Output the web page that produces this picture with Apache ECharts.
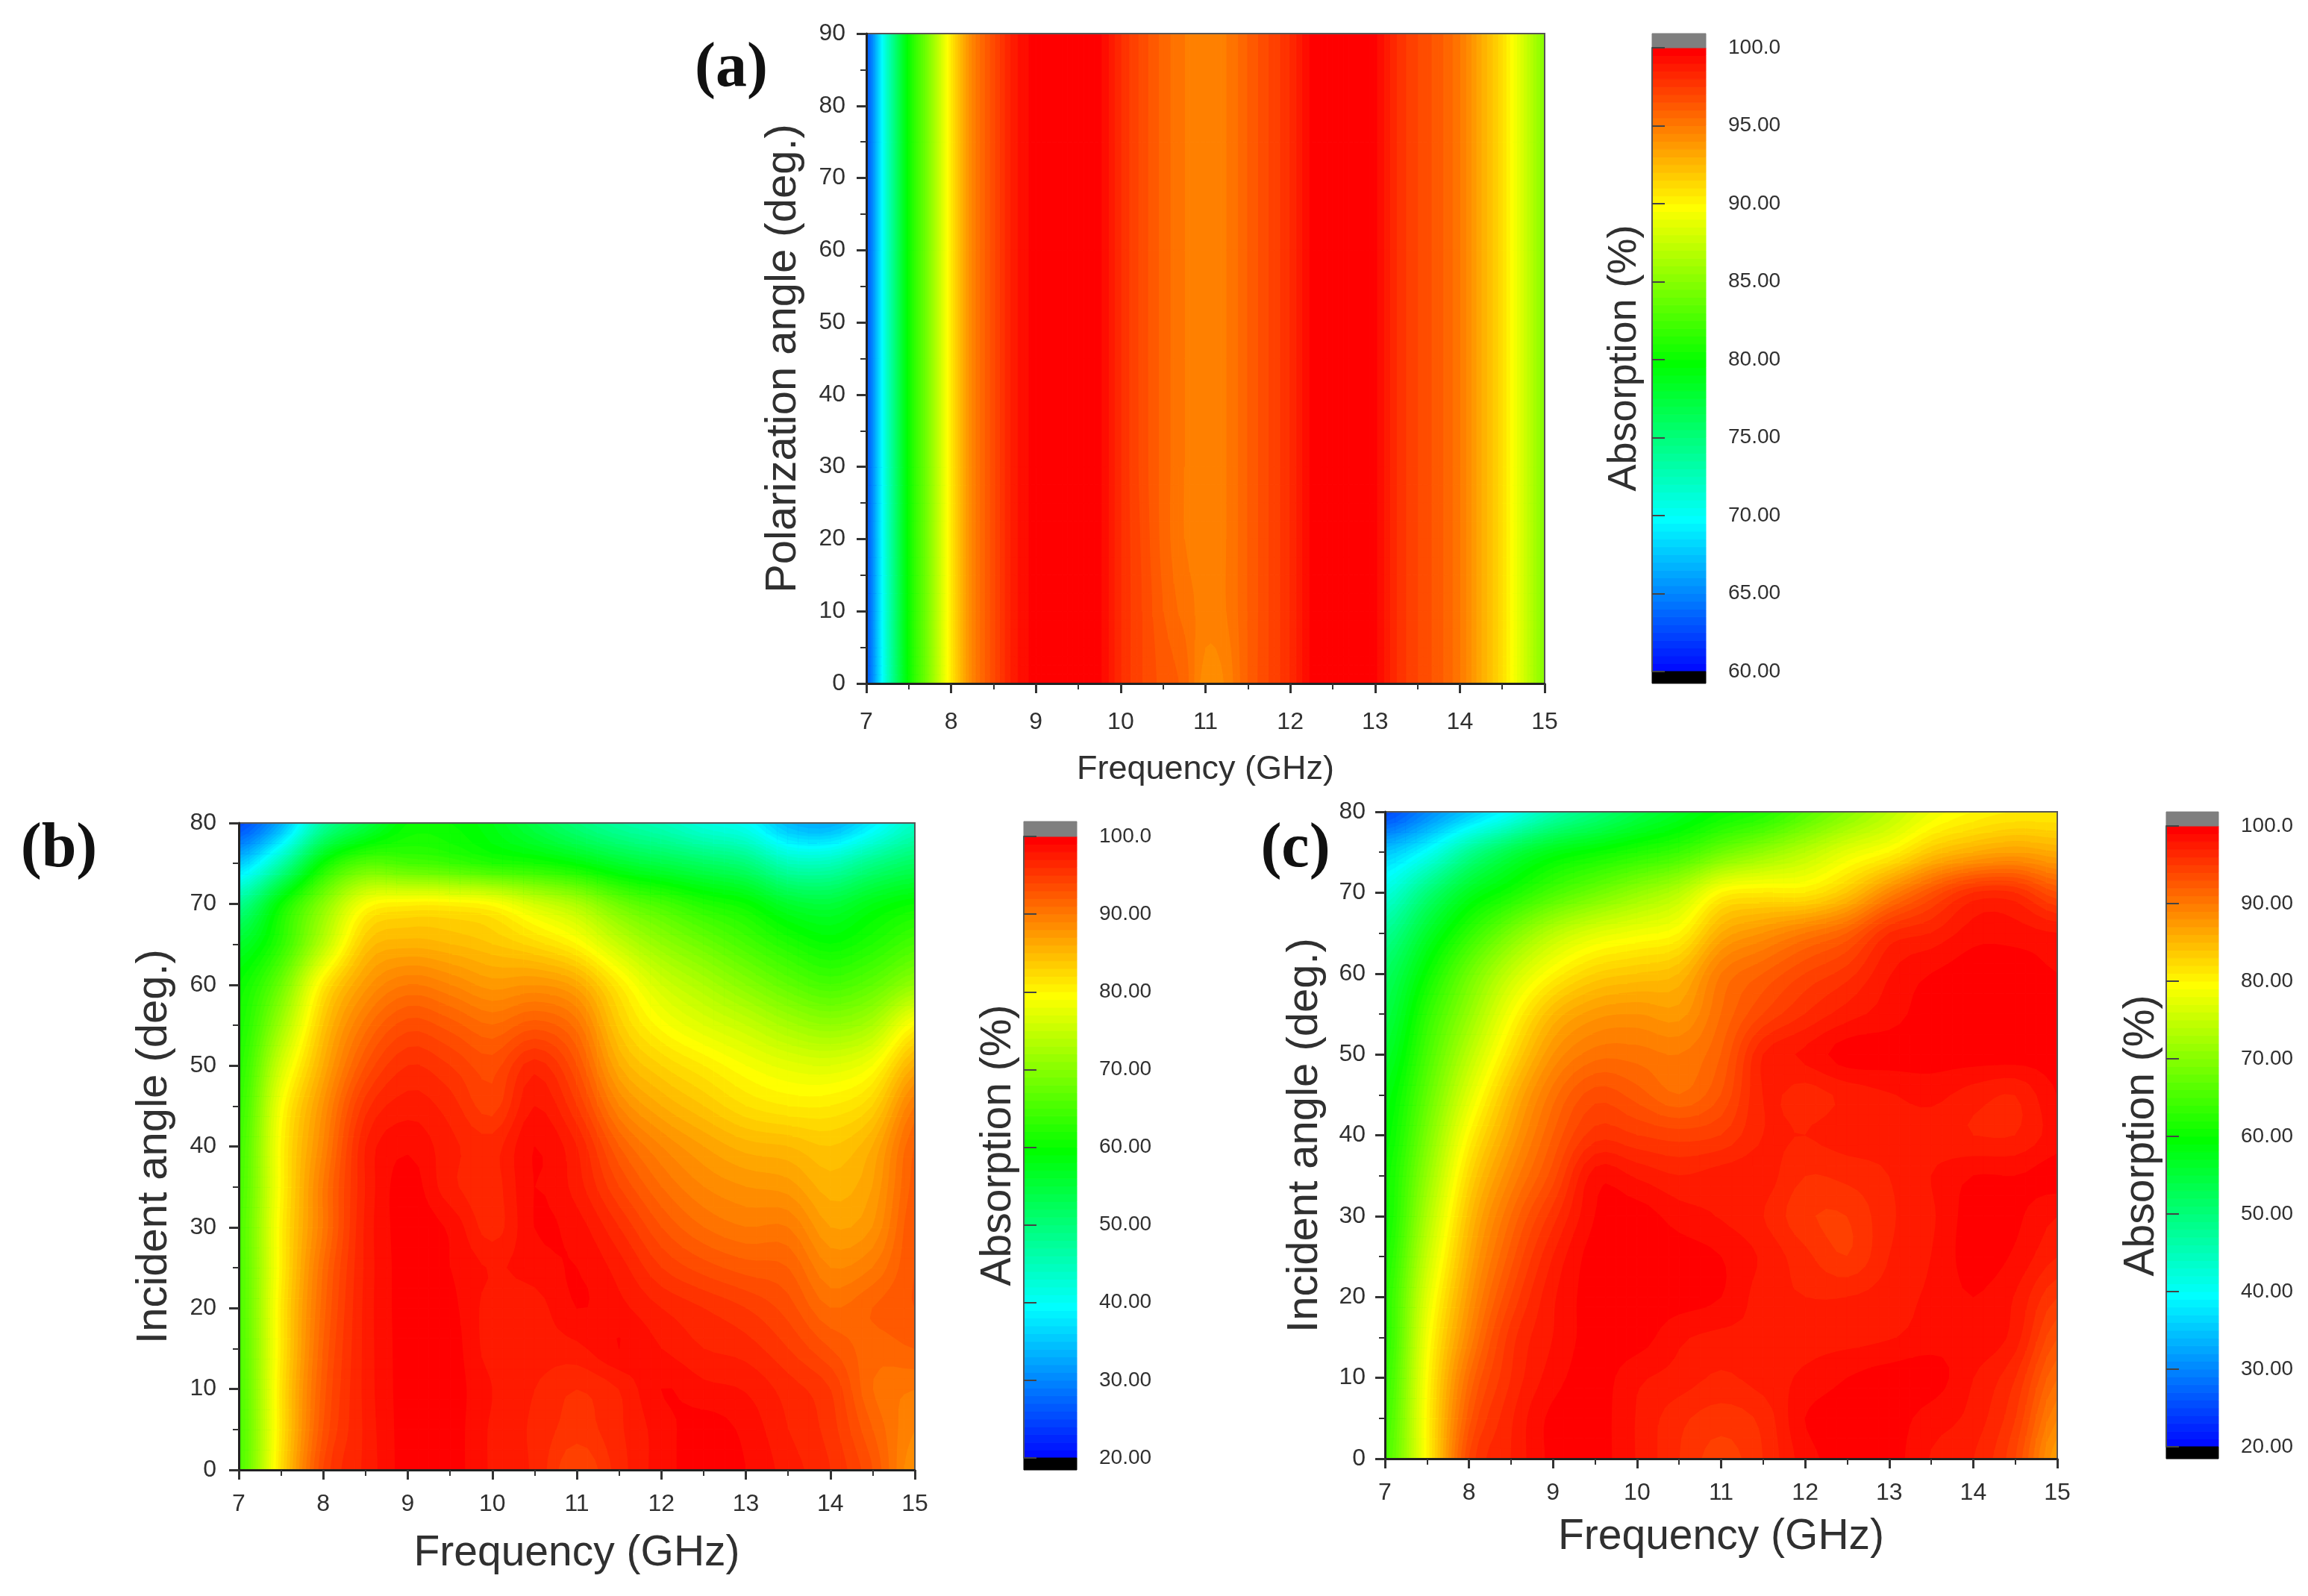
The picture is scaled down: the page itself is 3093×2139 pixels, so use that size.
<!DOCTYPE html>
<html lang="en">
<head>
  <meta charset="UTF-8">
  <title>Absorption maps</title>
  <script src="https://cdn.jsdelivr.net/npm/echarts@6/dist/echarts.min.js"></script>
  <style>html,body{margin:0;background:#fff}</style>
</head>
<body>
<div id="main" style="width:3093px;height:2139px;"></div>
<script type="text/javascript">
  // values
  var freqA = [7,7.25,7.5,7.75,8,8.25,8.5,8.75,9,9.25,9.5,9.75,10,10.25,10.5,10.75,11,11.25,11.5,11.75,12,12.25,12.5,12.75,13,13.25,13.5,13.75,14,14.25,14.5,14.75,15];
  var angleA = [0,5,10,20,30,90];
  var absorptionA = [
    [63,72,80,85,90.5,94.5,96.8,98.8,99.7,99.8,99.8,99.6,98,97,96.3,95.8,94.2,94.6,96,97,98,99.6,99.8,99.8,99.6,98,97,96.2,95,93,91,88,85],
    [63,72,80,85,90.5,94.5,96.8,98.8,99.7,99.8,99.8,99.6,98,97,96.2,95.6,94.5,94.8,96,97,98,99.6,99.8,99.8,99.6,98,97,96.2,95,93,91,88,85],
    [63,72,80,85,90.5,94.5,96.8,98.8,99.7,99.8,99.8,99.6,98,97,96,95.3,94.8,95,96,97,98,99.6,99.8,99.8,99.6,98,97,96.2,95,93,91,88,85],
    [63,72,80,85,90.5,94.5,96.8,98.8,99.7,99.8,99.8,99.6,98,96.9,95.8,95,94.8,95,96,97,98,99.6,99.8,99.8,99.6,98,97,96.2,95,93,91,88,85],
    [63,72,80,85,90.5,94.5,96.8,98.8,99.7,99.8,99.8,99.6,98,96.8,95.8,95,94.8,95,96,97,98,99.6,99.8,99.8,99.6,98,97,96.2,95,93,91,88,85],
    [63,72,80,85,90.5,94.5,96.8,98.8,99.7,99.8,99.8,99.6,98,96.8,95.8,95,94.8,95,96,97,98,99.6,99.8,99.8,99.6,98,97,96.2,95,93,91,88,85]
  ];

  var freqBC = [7,7.5,8,8.5,9,9.5,10,10.5,11,11.5,12,12.5,13,13.5,14,14.5,15];
  var angleBC = [0,5,10,15,20,25,30,35,40,45,50,55,60,65,70,75,80];
  var absorptionB = [
    [65,82,94,97.2,99.5,99.5,97.8,96.8,94,96.5,98.5,99.5,99,97.5,96,93,88],
    [65,81.5,93,97.2,99.5,99.5,97.8,96.8,95.5,96.8,98.5,99.5,98.7,97,95.5,92,89],
    [65,81.5,92.5,97.3,99.5,99.5,98,97,96,97,99,98.3,97.9,96.5,95,91,90],
    [65,81,92,97.3,99.5,99.5,97.5,97.5,97.7,99,98,97,96.5,95,93,91.5,92],
    [65,81,91.5,97.3,99.5,99.3,97.5,97.5,99,98.3,97,96,95,93.5,91,92,93],
    [65,80.5,91,97.2,99.5,99,97.9,98.5,99,97.5,95,93.5,92.5,92,89,90,93],
    [65,80.5,90,97.2,99.5,98.8,96.5,99,98.5,96,93,91,90,90,87,88,93],
    [64.5,80,90,97,99.5,97.3,96.5,99,97.5,94,91,89,88,87.5,85.5,87,92.5],
    [64,80,89,97,98.8,97.3,96.5,99,97,92,89,87,85.5,85,84,86,92],
    [63,79,88,95.5,97.5,96.5,94.5,98,95,89,86,84,82,81,81,83,90],
    [62,76,86,93,96,95,93.5,96.5,93,86,83,81,79,77.5,77,79,86],
    [61,72,84,90.5,93.5,92.5,91,92.5,90.5,83.5,79.5,77,75,72.5,71,73,80],
    [60,68,81,87.5,90,89,87.5,88,86.5,81,76,73,70,67,65,67,71],
    [56,63,74,84,85.5,85,84,82.5,80,75,71,68,65,62,60,62,65],
    [48,60,70,79,80.5,80.5,79.5,76,73,68,65,62,60,56,55,58,60],
    [35,46,60,66,65,64,62,61,59,56,54,52,50,45,45,49,52],
    [25,33,47,54,60,60,58,54,50,47,45,42,40,34,33,38,44]
  ];
  var absorptionC = [
    [65,80,94,97,99.3,99.5,97.9,96,94.5,96,98.5,99.5,99.5,97.9,97,94,87],
    [64,80,92.5,96.8,99.3,99.5,97.9,96.3,95.5,96.3,99,99.5,99.5,98.5,97.6,95,89],
    [63,79.5,91,96,98.5,99.5,98.2,97.6,96.8,97.5,98.2,99,99.5,99.5,98,96,91],
    [62,78.5,89,95.5,98,99.5,99.5,98.2,97.7,97.8,97.6,97.6,97.9,98.5,98.8,97.5,93],
    [62,77,87.5,94,97.8,99.5,99.5,99.5,99,97.5,97,97,97.5,98.2,99,97.9,95],
    [61,75,86,92.5,97,99.5,99.5,99.5,99,97.8,96.3,95,97,98,99.5,98.8,97],
    [60,73,84.5,91,95.5,99,99.5,98.5,97.9,97,95.2,95,96.8,97.8,99.5,99.2,98],
    [60,71,82.5,89,93.5,98.5,97.8,97,97.5,97.5,96,96.3,97,98,99,99,99.5],
    [59,69,80,87,92,95.5,95,94.5,95,97,97,97.5,97.5,97.5,97,97,98.5],
    [58,67,77,85,90.5,93.5,92.5,91,93,97,96.5,97.3,97.9,98.3,97.5,97,99],
    [56,65,74,82,88,90.5,90.5,90,92,97,98.2,99.5,99.5,99.5,99.5,99.5,99.5],
    [54,63,71,79,85,87.5,88,87.5,91,94,96,97.5,98.5,99.5,99.5,99.5,99.5],
    [52,60,68,75,80,83,84,85,90,92,94,95.5,97.9,99,99.5,99.5,99],
    [48,56,63,69,74,77,78.5,80,86,88,90,92,96,97,98.5,98.5,98],
    [42,50,57,61,65,68,71,74,80,81,81,84,89,93,96,96,93],
    [35,40,48,54,58,60,62,64,68,71,74,77.5,80,84,86,87,86],
    [25,30,35,40,46,50,54,57,60,62,66,70,74,78,80,81,81]
  ];

  var freqTicks = [7, 15];
  var angleMaxA = 90, angleMaxBC = 80;
  var scaleA = [60, 100, 5, 0.5];   // min, max, tick step, contour step
  var scaleBC = [20, 100, 10, 1];

  var font = 'Liberation Sans';
  var textColor = '#303030';
  var stops = [[0,0,255],[0,255,255],[0,255,0],[255,255,0],[255,0,0]];
  var subCells = 4;   // each table cell is filled in pieces so contours bend

  function rainbow(v, scale) {
    var t = (v - scale[0]) / (scale[1] - scale[0]);
    t = Math.max(0, Math.min(1, t)) * 4;
    var i = Math.min(3, Math.floor(t)), f = t - i;
    var a = stops[i], b = stops[i + 1];
    return 'rgb(' + Math.round(a[0] + (b[0] - a[0]) * f) + ',' + Math.round(a[1] + (b[1] - a[1]) * f) + ',' + Math.round(a[2] + (b[2] - a[2]) * f) + ')';
  }

  function spline(p0, p1, p2, p3, t) {
    return 0.5 * (2 * p1 + (p2 - p0) * t + (2 * p0 - 5 * p1 + 4 * p2 - p3) * t * t + (3 * p1 - p0 - 3 * p2 + p3) * t * t * t);
  }

  // smooth shading between the table values, used only while painting a cell
  function shade(table, i, j, u, v) {
    var rows = [];
    for (var r = j - 1; r <= j + 2; r++) {
      var row = table[Math.max(0, Math.min(table.length - 1, r))], last = row.length - 1;
      rows.push(spline(row[Math.max(0, i - 1)], row[i], row[Math.min(last, i + 1)], row[Math.min(last, i + 2)], u));
    }
    return spline(rows[0], rows[1], rows[2], rows[3], v);
  }

  // part of one piece where value >= level (corners in order around the piece)
  function clipCell(pts, vals, level) {
    var out = [];
    for (var i = 0; i < 4; i++) {
      var j = (i + 1) % 4;
      if (vals[i] >= level) out.push(pts[i]);
      if ((vals[i] >= level) !== (vals[j] >= level)) {
        var t = (level - vals[i]) / (vals[j] - vals[i]);
        out.push([pts[i][0] + (pts[j][0] - pts[i][0]) * t, pts[i][1] + (pts[j][1] - pts[i][1]) * t]);
      }
    }
    return out;
  }

  // filled contour series: the data is the table as read, the bands are drawn in each cell
  function contourSeries(idx, freq, angle, table, scale) {
    var data = [];
    angle.forEach(function (a, j) {
      freq.forEach(function (f, i) { data.push([f, a, table[j][i]]); });
    });
    var n = freq.length;
    return {
      type: 'custom', xAxisIndex: idx * 2, yAxisIndex: idx * 2, silent: true,
      animation: false, data: data, encode: {x: 0, y: 1},
      renderItem: function (params, api) {
        var k = params.dataIndex, i = k % n, j = Math.floor(k / n);
        var children = [], step = scale[3];
        if (i === n - 1 || j === angle.length - 1) return {type: 'group', children: children};
        var p0 = api.coord([freq[i], angle[j]]), p1 = api.coord([freq[i + 1], angle[j + 1]]);
        var dx = (p1[0] - p0[0]) / subCells, dy = (p1[1] - p0[1]) / subCells;
        for (var a = 0; a < subCells; a++) {
          for (var b = 0; b < subCells; b++) {
            var vals = [
              shade(table, i, j, a / subCells, b / subCells), shade(table, i, j, (a + 1) / subCells, b / subCells),
              shade(table, i, j, (a + 1) / subCells, (b + 1) / subCells), shade(table, i, j, a / subCells, (b + 1) / subCells)
            ];
            var x = p0[0] + a * dx, y = p0[1] + b * dy;
            var pts = [[x, y], [x + dx, y], [x + dx, y + dy], [x, y + dy]];
            var lo = Math.max(scale[0], Math.min.apply(null, vals)), hi = Math.max.apply(null, vals);
            var first = scale[0] + Math.floor((lo - scale[0]) / step) * step;
            for (var level = first; level <= hi && level < scale[1]; level += step) {
              var poly = level <= lo ? pts : clipCell(pts, vals, level);
              if (poly.length < 3) continue;
              var c = rainbow(level + step, scale);
              children.push({type: 'polygon', shape: {points: poly}, style: {fill: c, stroke: c, lineWidth: 1}});
            }
          }
        }
        return {type: 'group', children: children};
      }
    };
  }

  // colour bar with the black and grey end caps outside the scale
  function barSeries(idx, scale, overshoot) {
    var data = [], step = scale[3];
    for (var v = scale[0]; v < scale[1]; v += step) data.push([v, v + step, rainbow(v + step, scale)]);
    data.push([scale[0] - overshoot[0], scale[0], '#000000']);
    data.push([scale[1], scale[1] + overshoot[1], '#7f7f7f']);
    return {
      type: 'custom', xAxisIndex: idx * 2 + 1, yAxisIndex: idx * 2 + 1, silent: true,
      animation: false, data: data, encode: {y: [0, 1]},
      renderItem: function (params, api) {
        var p0 = api.coord([0, api.value(0)]), p1 = api.coord([1, api.value(1)]);
        var c = data[params.dataIndex][2];
        return {type: 'rect', shape: {x: p0[0], y: p1[1], width: p1[0] - p0[0], height: p0[1] - p1[1]},
          style: {fill: c, stroke: c, lineWidth: 1}};
      }
    };
  }

  var panels = [
    {plot: [1161, 45, 909, 871], bar: [2214, 64, 72, 836], yMax: angleMaxA, scale: scaleA, yName: 'Polarization angle (deg.)', xFont: 45, xGap: 93, yGap: 82, xMargin: 36, yMargin: 28},
    {plot: [320, 1103, 906, 867], bar: [1372, 1121, 71, 833], yMax: angleMaxBC, scale: scaleBC, yName: 'Incident angle (deg.)', xFont: 57, xGap: 84, yGap: 84, xMargin: 30, yMargin: 30},
    {plot: [1856, 1088, 901, 867], bar: [2903, 1107, 70, 832], yMax: angleMaxBC, scale: scaleBC, yName: 'Incident angle (deg.)', xFont: 57, xGap: 77, yGap: 78, xMargin: 30, yMargin: 26}
  ];

  var grids = [], xAxes = [], yAxes = [];
  panels.forEach(function (p, n) {
    // z above the series so the frame shows along the top and right edges
    grids.push({left: p.plot[0], top: p.plot[1], width: p.plot[2], height: p.plot[3], show: true, z: 4,
      backgroundColor: 'transparent', borderColor: '#555', borderWidth: 2});
    grids.push({left: p.bar[0], top: p.bar[1], width: p.bar[2], height: p.bar[3]});
    var line = {lineStyle: {color: '#222', width: 3}};
    var tick = {length: 13, lineStyle: {color: '#333', width: 3}};
    var minor = {show: true, splitNumber: 2, length: 8, lineStyle: {color: '#333', width: 2}};
    xAxes.push({
      type: 'value', gridIndex: n * 2, min: freqTicks[0], max: freqTicks[1], interval: 1, z: 5,
      axisLine: line, axisTick: tick, minorTick: minor, splitLine: {show: false},
      axisLabel: {fontFamily: font, fontSize: 32, color: textColor, margin: p.xMargin},
      name: 'Frequency (GHz)', nameLocation: 'middle', nameGap: p.xGap,
      nameTextStyle: {fontFamily: font, fontSize: p.xFont, color: textColor}
    });
    yAxes.push({
      type: 'value', gridIndex: n * 2, min: 0, max: p.yMax, interval: 10, z: 5,
      axisLine: line, axisTick: tick, minorTick: minor, splitLine: {show: false},
      axisLabel: {fontFamily: font, fontSize: 32, color: textColor, margin: p.yMargin},
      name: p.yName, nameLocation: 'middle', nameGap: p.yGap,
      nameTextStyle: {fontFamily: font, fontSize: 58, color: textColor}
    });
    // colour bar axes
    xAxes.push({type: 'value', gridIndex: n * 2 + 1, min: 0, max: 1, show: false});
    yAxes.push({
      type: 'value', gridIndex: n * 2 + 1, position: 'right', min: p.scale[0], max: p.scale[1], interval: p.scale[2], z: 5,
      axisLine: {show: true, lineStyle: {color: '#555', width: 2}},
      axisTick: {show: true, length: 17, lineStyle: {color: '#444', width: 2}},
      splitLine: {show: false},
      axisLabel: {fontFamily: font, fontSize: 28, color: textColor, margin: 30,
        formatter: function (v) { return v === 100 ? '100.0' : v.toFixed(2); }}
    });
  });

  var series = [
    contourSeries(0, freqA, angleA, absorptionA, scaleA),
    barSeries(0, scaleA, [0.76, 0.91]),
    contourSeries(1, freqBC, angleBC, absorptionB, scaleBC),
    barSeries(1, scaleBC, [1.54, 1.92]),
    contourSeries(2, freqBC, angleBC, absorptionC, scaleBC),
    barSeries(2, scaleBC, [1.54, 1.82])
  ];

  function sideText(text, x, y, rotate, size, fam, weight) {
    return {type: 'text', x: x, y: y, rotation: rotate ? Math.PI / 2 : 0, silent: true,
      style: {text: text, fontFamily: fam, fontSize: size, fontWeight: weight, fill: rotate ? textColor : '#111', textAlign: 'center', textVerticalAlign: 'middle'}};
  }

  var myChart = echarts.init(document.getElementById('main'));
  myChart.setOption({
    animation: false,
    backgroundColor: '#ffffff',
    grid: grids, xAxis: xAxes, yAxis: yAxes, series: series,
    graphic: [
      sideText('(a)', 980, 93, false, 84, 'Liberation Serif', 'bold'),
      sideText('(b)', 79, 1139, false, 84, 'Liberation Serif', 'bold'),
      sideText('(c)', 1736, 1139, false, 84, 'Liberation Serif', 'bold'),
      sideText('Absorption (%)', 2177, 480, true, 54, font, 'normal'),
      sideText('Absorption (%)', 1338, 1535, true, 57, font, 'normal'),
      sideText('Absorption (%)', 2870, 1522, true, 57, font, 'normal')
    ]
  });
</script>
</body>
</html>
